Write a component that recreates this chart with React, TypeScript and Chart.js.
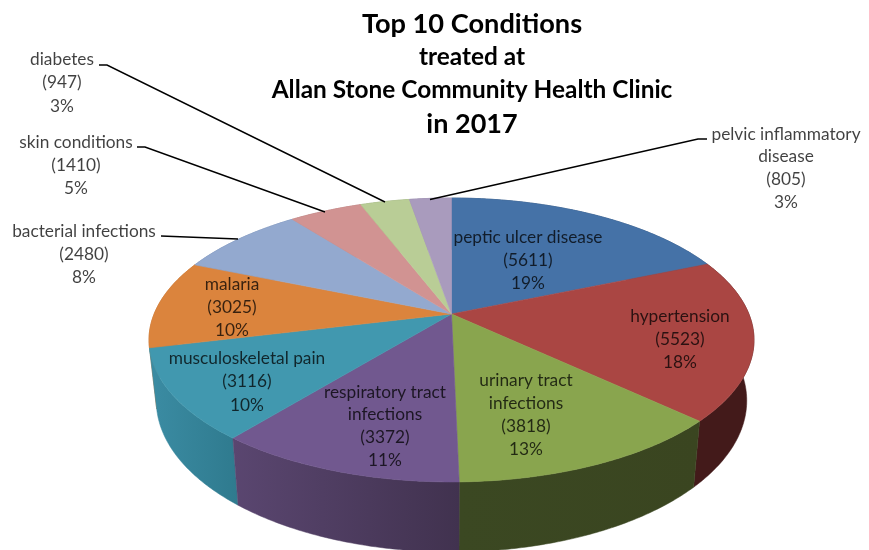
import React, { useEffect, useRef } from "react";
import { Chart, registerables } from "chart.js";

Chart.register(...registerables);

// ---- data ----
const categories = [
  "peptic ulcer disease",
  "hypertension",
  "urinary tract infections",
  "respiratory tract infections",
  "musculoskeletal pain",
  "malaria",
  "bacterial infections",
  "skin conditions",
  "diabetes",
  "pelvic inflammatory disease",
];
const patientCounts = [5611, 5523, 3818, 3372, 3116, 3025, 2480, 1410, 947, 805];
const titleLines = [
  "Top 10 Conditions",
  "treated at",
  "Allan Stone Community Health Clinic",
  "in 2017",
];

// ---- styles ----
const faceColors = [
  "#4572A7", "#AA4643", "#89A54E", "#71588F", "#4198AF",
  "#DB843D", "#93A9CF", "#D19392", "#B9CD96", "#A99BBD",
];
// wall colour at the slice's left and right end
const wallColors: [string, string][] = [
  ["#2a4566", "#2a4566"],
  ["#431a1a", "#431a1a"],
  ["#3b4822", "#3a4520"],
  ["#5a4670", "#41324f"],
  ["#3b8ca3", "#2f7a8e"],
  ["#b56d32", "#b56d32"],
  ["#5f7aa5", "#5f7aa5"],
  ["#a06a69", "#a06a69"],
  ["#84996a", "#84996a"],
  ["#7a6c90", "#7a6c90"],
];

// ---- layout of annotations (canvas pixels) ----
const labelWraps: Record<number, string[]> = {
  2: ["urinary tract", "infections"],
  3: ["respiratory tract", "infections"],
  9: ["pelvic inflammatory", "disease"],
};
const labelAnchors = [
  [528, 237], [680, 316], [526, 380], [385, 392], [247, 358],
  [232, 284], [84, 231], [76, 142], [62, 59], [786, 134],
];
const labelLineGaps = [23, 23, 23, 22.7, 23.5, 23, 23, 23, 23.5, 22.8];
const leaderLines: number[][][] = [
  [[99, 65], [107, 65], [385, 202]],
  [[137, 147], [145, 147], [325, 212]],
  [[161, 236], [238, 239]],
  [[707, 139], [698, 139], [430, 199.5]],
];
const titleFonts = [
  { size: 27.2, y: 24 },
  { size: 24.4, y: 57 },
  { size: 24.4, y: 90 },
  { size: 27, y: 124 },
];

// ---- perspective of the pie disc ----
const CX = 451.5;
const CY = 314;
const RX = 297.4;
const RY = 137.2;
const K = 0.183;
const BOTTOM_X = 0.976;
const BOTTOM_YA = 1.0656;
const BOTTOM_YB = 38.4;

function top(a: number): [number, number] {
  const u = Math.cos(a);
  const v = Math.sin(a);
  const w = 1 - K * v;
  return [CX + (RX * u) / w, CY + (RY * v) / w];
}
function bottom(a: number): [number, number] {
  const [x, y] = top(a);
  return [CX + (x - CX) * BOTTOM_X, y * BOTTOM_YA + BOTTOM_YB];
}
function arcAngles(s: number, e: number): number[] {
  const n = Math.max(2, Math.ceil((e - s) / 0.01));
  const out: number[] = [];
  for (let i = 0; i <= n; i++) out.push(s + ((e - s) * i) / n);
  return out;
}

const pie3d = {
  id: "pie3d",
  beforeDatasetsDraw(chart: any) {
    const ctx: CanvasRenderingContext2D = chart.ctx;
    const arcs = chart.getDatasetMeta(0).data;

    // side walls, back first
    ctx.save();
    const order = arcs.map((_: any, i: number) => i).sort((p: number, q: number) => {
      const mid = (i: number) => Math.sin((arcs[i].startAngle + arcs[i].endAngle) / 2);
      return mid(p) - mid(q);
    });
    for (const i of order) {
      const pts = arcAngles(arcs[i].startAngle, arcs[i].endAngle);
      const tops = pts.map(top);
      const bots = pts.map(bottom);
      const xs = tops.concat(bots).map((p) => p[0]);
      const g = ctx.createLinearGradient(Math.min(...xs), 0, Math.max(...xs), 0);
      g.addColorStop(0, wallColors[i][0]);
      g.addColorStop(1, wallColors[i][1]);
      ctx.beginPath();
      tops.forEach((p, n) => (n ? ctx.lineTo(p[0], p[1]) : ctx.moveTo(p[0], p[1])));
      bots.reverse().forEach((p) => ctx.lineTo(p[0], p[1]));
      ctx.closePath();
      ctx.fillStyle = g;
      ctx.strokeStyle = g;
      ctx.lineWidth = 0.5;
      ctx.fill();
      ctx.stroke();
    }

    // top faces
    arcs.forEach((arc: any, i: number) => {
      ctx.beginPath();
      ctx.moveTo(CX, CY);
      arcAngles(arc.startAngle, arc.endAngle).forEach((a) => {
        const p = top(a);
        ctx.lineTo(p[0], p[1]);
      });
      ctx.closePath();
      ctx.fillStyle = faceColors[i];
      ctx.strokeStyle = faceColors[i];
      ctx.lineWidth = 0.6;
      ctx.fill();
      ctx.stroke();
    });
    ctx.restore();

    // leader lines
    ctx.save();
    ctx.strokeStyle = "#000000";
    ctx.lineWidth = 1.4;
    for (const line of leaderLines) {
      ctx.beginPath();
      line.forEach((p, n) => (n ? ctx.lineTo(p[0], p[1]) : ctx.moveTo(p[0], p[1])));
      ctx.stroke();
    }
    ctx.restore();

    // data labels
    const values: number[] = chart.data.datasets[0].data;
    const total = values.reduce((s, v) => s + v, 0);
    ctx.save();
    ctx.font = "17.3px Lato";
    ctx.textAlign = "center";
    ctx.textBaseline = "middle";
    ctx.fillStyle = "rgba(0,0,0,0.75)";
    values.forEach((v, i) => {
      const lines = [
        ...(labelWraps[i] || [chart.data.labels[i]]),
        `(${v})`,
        `${Math.round((v / total) * 100)}%`,
      ];
      lines.forEach((t, n) => {
        ctx.fillText(t, labelAnchors[i][0], labelAnchors[i][1] + n * labelLineGaps[i]);
      });
    });
    ctx.restore();

    // title
    ctx.save();
    ctx.textAlign = "center";
    ctx.textBaseline = "middle";
    ctx.fillStyle = "#000000";
    titleLines.forEach((t, i) => {
      ctx.font = `bold ${titleFonts[i].size}px Lato`;
      ctx.fillText(t, 472, titleFonts[i].y);
    });
    ctx.restore();

    return false;
  },
};

export default function App() {
  const ref = useRef<HTMLCanvasElement>(null);
  useEffect(() => {
    const chart = new Chart(ref.current!, {
      type: "pie",
      data: {
        labels: categories,
        datasets: [{ data: patientCounts, backgroundColor: faceColors, borderWidth: 0 }],
      },
      options: {
        responsive: false,
        animation: false,
        plugins: { legend: { display: false }, tooltip: { enabled: false } },
      },
      plugins: [pie3d],
    } as any);
    return () => chart.destroy();
  }, []);
  return (
    <div style={{ position: "absolute", left: 0, top: 0, width: 869, height: 550, background: "#fff" }}>
      <canvas ref={ref} width={869} height={550} style={{ display: "block" }} />
    </div>
  );
}
